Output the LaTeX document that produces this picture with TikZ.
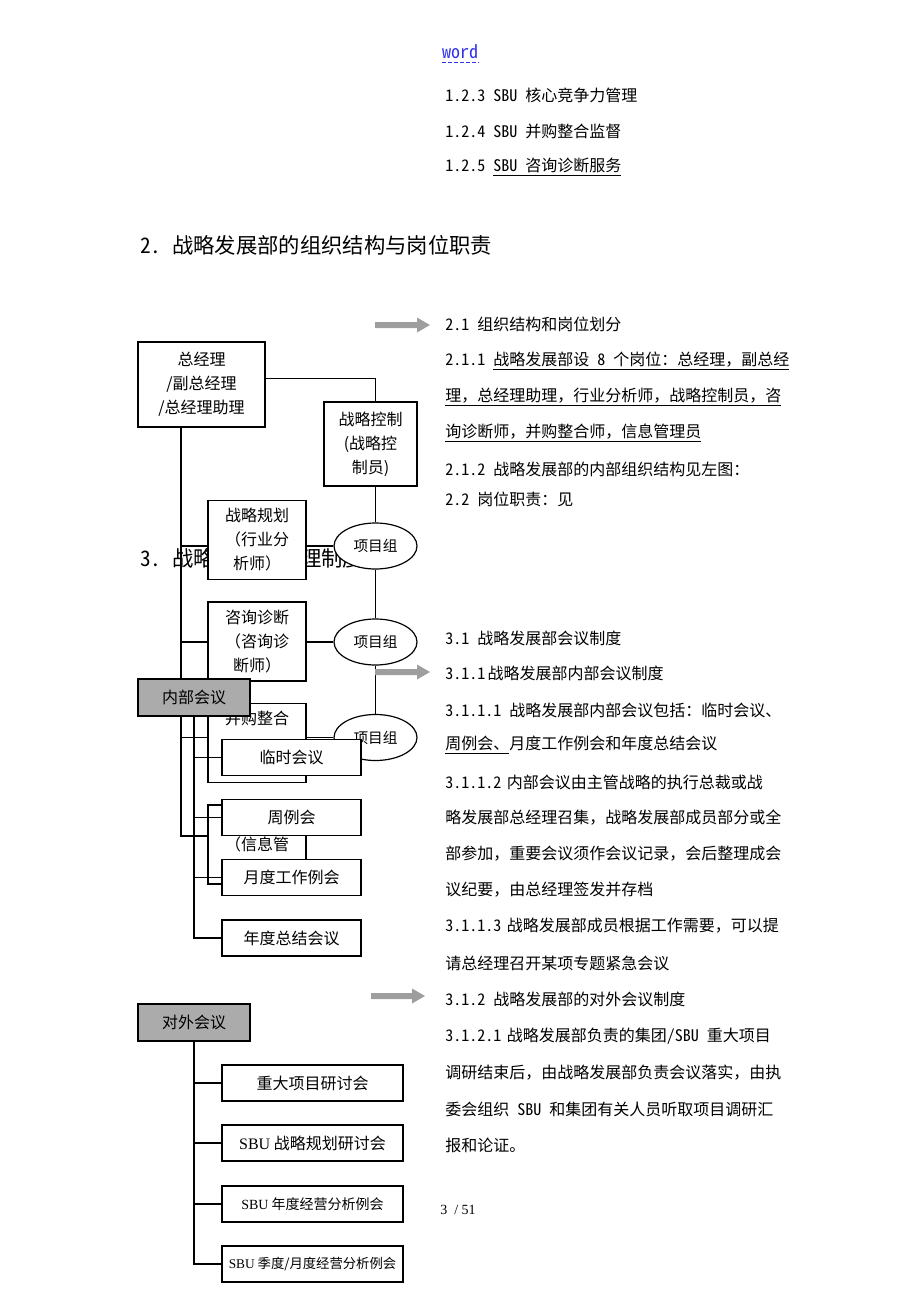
\documentclass[tikz,border=0pt]{standalone}
\usepackage{fontspec}
\setmainfont{Noto Sans CJK SC}
\newfontfamily\hw{Noto Sans CJK SC}[RawFeature=+hwid]
\newfontfamily\tnr{Liberation Serif}
\usetikzlibrary{shapes.geometric,backgrounds}
\newcommand\hs{\hspace{.5em}}
\newcommand\hst{\hspace{.35em}}
\newcommand\ul[1]{\underline{#1}}
\newcommand\garrow[3]{\fill[arrowfill] (#1,#3-3) -- (#2-13,#3-3) -- (#2-13,#3-7.5) -- (#2,#3) -- (#2-13,#3+7.5) -- (#2-13,#3+3) -- (#1,#3+3) -- cycle;}
\tikzset{
 box/.style={draw, line width=0.9pt, fill=white, inner sep=0pt, align=center, font=\fontsize{12}{18}\selectfont},
 grbox/.style={box, fill=black!33},
 ell/.style={ellipse, draw, line width=0.9pt, fill=white, inner sep=0pt, minimum width=62.25pt, minimum height=34.5pt, font=\fontsize{11}{13}\selectfont},
 conn/.style={line width=0.8pt},
 body/.style={anchor=west, inner sep=0pt, font=\fontsize{12}{14}\selectfont},
 head/.style={anchor=west, inner sep=0pt, font=\fontsize{16}{18}\selectfont},
 arrowfill/.style={fill=black!38},
 orgbox/.style={box, minimum width=73.5pt, minimum height=59.25pt},
 meetbox/.style={box, minimum width=104.25pt, minimum height=27pt},
 extbox/.style={box, minimum width=135.75pt, minimum height=27pt},
 linkcol/.style={text={rgb,255:red,50;green,50;blue,235}},
}
\begin{document}
\begin{tikzpicture}[x=0.75pt,y=-0.75pt]
\useasboundingbox (0,0) rectangle (920,1302);

% ---------- top text ----------
\node[anchor=west, inner sep=0pt, font=\hw\fontsize{13.5}{15}\selectfont, linkcol] (word) at (442,52) {word};
\draw[draw={rgb,255:red,50;green,50;blue,235}, dashed, dash pattern=on 3pt off 1.5pt, line width=0.6pt] ([yshift=-2pt]word.south west) -- ([yshift=-2pt]word.south east);
\node[body] (t123) at (445,95) {{\hw 1.2.3}\hs{\hw SBU}\hs 核心竞争力管理};
\node[body] (t124) at (445,131) {{\hw 1.2.4}\hs{\hw SBU}\hs 并购整合监督};
\node[body] (t125) at (445,167) {{\hw 1.2.5}\hs\ul{{\hw SBU}\hs 咨询诊断服务}};
\node[head] (h2) at (140,245) {{\hw 2.}\hs 战略发展部的组织结构与岗位职责};

% ---------- right column text ----------
\node[body] (t21) at (445,324) {{\hw 2.1}\hs 组织结构和岗位划分};
\node[body] (t211a) at (445,361) {{\hw 2.1.1}\hs\ul{战略发展部设\hs{\hw 8}\hs 个岗位：总经理，副总经}};
\node[body] (t211b) at (445,397) {\ul{理，总经理助理，行业分析师，战略控制员，咨}};
\node[body] (t211c) at (445,433) {\ul{询诊断师，并购整合师，信息管理员}};
\node[body] (t212) at (445,469) {{\hw 2.1.2}\hs 战略发展部的内部组织结构见左图：};
\node[body] (t22) at (445,499) {{\hw 2.2}\hs 岗位职责：见};

\node[body] (t31) at (445,638) {{\hw 3.1}\hs 战略发展部会议制度};
\node[body] (t311) at (445,673) {{\hw 3.1.1}\hspace{.15em}战略发展部内部会议制度};
\node[body] (t3111a) at (445,710) {{\hw 3.1.1.1}\hs 战略发展部内部会议包括：临时会议、};
\node[body] (t3111b) at (445,745) {\ul{周例会、}月度工作例会和年度总结会议};
\node[body] (t3112a) at (445,782) {{\hw 3.1.1.2}\hst 内部会议由主管战略的执行总裁或战};
\node[body] (t3112b) at (445,818) {略发展部总经理召集，战略发展部成员部分或全};
\node[body] (t3112c) at (445,854) {部参加，重要会议须作会议记录，会后整理成会};
\node[body] (t3112d) at (445,890) {议纪要，由总经理签发并存档};
\node[body] (t3113a) at (445,926) {{\hw 3.1.1.3}\hst 战略发展部成员根据工作需要，可以提};
\node[body] (t3113b) at (445,963) {请总经理召开某项专题紧急会议};
\node[body] (t312) at (445,999) {{\hw 3.1.2}\hs 战略发展部的对外会议制度};
\node[body] (t3121a) at (445,1036) {{\hw 3.1.2.1}\hst 战略发展部负责的集团{\hw /SBU}\hs 重大项目};
\node[body] (t3121b) at (445,1073) {调研结束后，由战略发展部负责会议落实，由执};
\node[body] (t3121c) at (445,1109) {委会组织\hs{\hw SBU}\hs 和集团有关人员听取项目调研汇};
\node[body] (t3121d) at (445,1145) {报和论证。};
\node[anchor=west, inner sep=0pt, font=\tnr\fontsize{10.5}{12}\selectfont] (page) at (440,1210) {3 \ / 51};

% ---------- gray arrows ----------
\garrow{375}{430}{325}
\garrow{375}{430}{672}
\garrow{371}{425}{996}

% ---------- org chart boxes ----------
\node[box, minimum width=95.25pt, minimum height=63.75pt] (zjl) at (201.5,384.5) {总经理\\/副总经理\\/总经理助理};
\node[box, minimum width=69.75pt, minimum height=63pt] (zlkz) at (370.5,444) {战略控制\\(战略控\\制员)};
\node[orgbox] (zlgh) at (257,540) {战略规划\\（行业分\\析师）};
\node[orgbox] (zxzd) at (257,641.5) {咨询诊断\\（咨询诊\\断师）};
\node[orgbox] (bgzh) at (257,743) {并购整合\\\phantom{（并购整}\\\phantom{合师）}};
\node[orgbox] (xxgl) at (257,844.5) {\phantom{信息管理}\\（信息管\\\phantom{理员）}};
\node[ell] (e1) at (375.5,546) {项目组};
\node[ell] (e2) at (375.5,642) {项目组};
\node[ell] (e3) at (375.5,737.5) {项目组};

% ---------- internal meetings ----------
\node[meetbox] (lshy) at (291.5,757.5) {临时会议};
\node[meetbox] (zlh) at (291.5,817.5) {周例会};
\node[meetbox] (ydgz) at (291.5,877.5) {月度工作例会};
\node[meetbox] (ndzj) at (291.5,938) {年度总结会议};
\node[grbox, minimum width=84pt, minimum height=27.75pt] (nbhy) at (194,697.5) {内部会议};
\draw[conn] (nbhy.south) |- (ndzj.west);
\draw[conn] (nbhy.south |- lshy.west) -- (lshy.west);
\draw[conn] (nbhy.south |- zlh.west) -- (zlh.west);
\draw[conn] (nbhy.south |- ydgz.west) -- (ydgz.west);

% ---------- external meetings ----------
\node[grbox, minimum width=84pt, minimum height=27.75pt] (dwhy) at (194,1022.5) {对外会议};
\node[extbox] (x1) at (312.5,1083) {重大项目研讨会};
\node[extbox] (x2) at (312.5,1143) {{\tnr SBU} 战略规划研讨会};
\node[extbox, font=\fontsize{10.5}{12}\selectfont] (x3) at (312.5,1204) {{\tnr SBU} 年度经营分析例会};
\node[extbox, font=\fontsize{10}{12}\selectfont] (x4) at (312.5,1264) {{\tnr SBU} 季度/月度经营分析例会};
\draw[conn] (dwhy.south) |- (x4.west);
\draw[conn] (dwhy.south |- x1.west) -- (x1.west);
\draw[conn] (dwhy.south |- x2.west) -- (x2.west);
\draw[conn] (dwhy.south |- x3.west) -- (x3.west);

% ---------- background: hidden heading and org connectors ----------
\begin{scope}[on background layer]
\node[head] (h3) at (140,558) {{\hw 3.}\hs 战略发展部管理制度};
\coordinate (lx) at (181,0);
\draw[conn] ([yshift=4.5pt]zjl.east) -| (e1.north |- zlkz.north);
\draw[conn] (e1.north |- zlkz.south) -- (e1.north);
\draw[conn] (e1.south) -- (e2.north);
\draw[conn] (e2.south) -- (e3.north);
\draw[conn] (zjl.south -| lx) |- ([yshift=6.4pt]xxgl.west);
\draw[conn] (lx |- e1) -- (zlgh.west |- e1);
\draw[conn] (zlgh.east |- e1) -- (e1.west);
\draw[conn] (lx |- e2) -- (zxzd.west |- e2);
\draw[conn] (zxzd.east |- e2) -- (e2.west);
\draw[conn] (lx |- e3) -- (bgzh.west |- e3);
\draw[conn] (bgzh.east |- e3) -- (e3.west);
\end{scope}
\end{tikzpicture}
\end{document}
